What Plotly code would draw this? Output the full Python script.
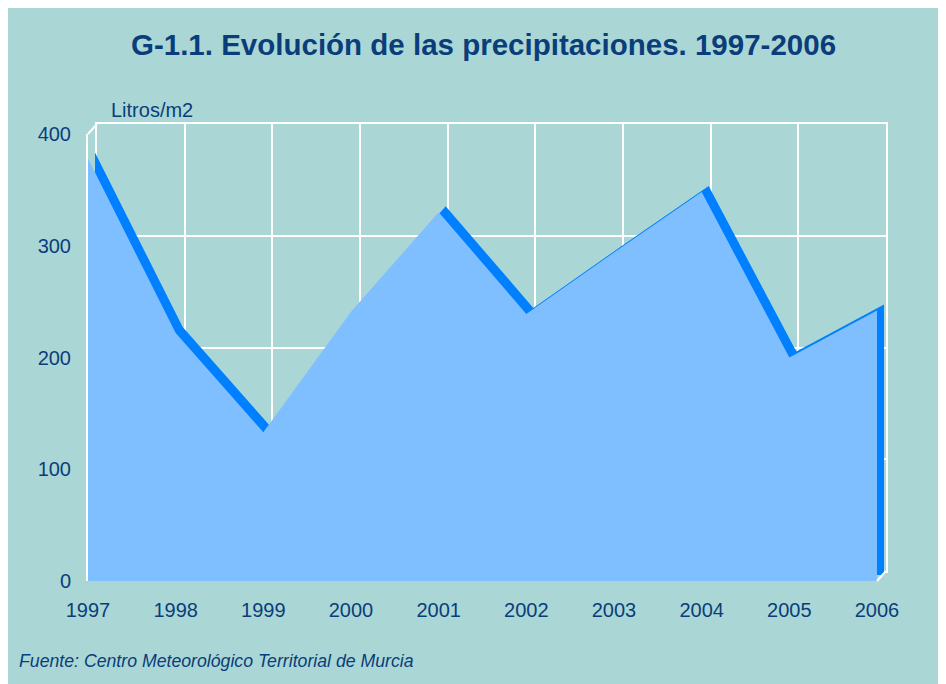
import plotly.graph_objects as go

years = ["1997", "1998", "1999", "2000", "2001", "2002", "2003", "2004", "2005", "2006"]
precip = [378, 222, 133, 241, 330, 239, 294, 348, 200, 242]
y_ticks = [0, 100, 200, 300, 400]

OFF = 8  # page body margin
W, H = 946 - OFF, 684 - OFF
L, R, T, B = 88 - OFF, 60, 124 - OFF, 103
PW, PH = W - L - R, H - T - B


def px(x):
    return (x - OFF - L) / PW


def py(y):
    return (H - B - (y - OFF)) / PH


BG = "#AAD7D5"
TXT = "#0B3D7B"
LIGHT = "#80BFFF"
DARK = "#0080FF"
FONT = "Liberation Sans, Arial, sans-serif"

idx = list(range(len(years)))

# reference pixel geometry
front_left, front_right = 88, 877
front_bottom, front_top = 581, 134
back_dx, back_dy = 9, 10   # back wall offset
area_dx, area_dy = 7, 6    # back face of series offset

fig = go.Figure()
# invisible trace to make the back-wall subplot render its grid
fig.add_trace(go.Scatter(x=idx, y=precip, xaxis="x", yaxis="y", mode="lines",
                         line=dict(width=0, color="rgba(0,0,0,0)"),
                         hoverinfo="skip", showlegend=False))
# back face of the 3D area (dark)
fig.add_trace(go.Scatter(x=idx, y=precip, xaxis="x2", yaxis="y2", mode="lines",
                         fill="tozeroy", fillcolor=DARK, line=dict(width=0, color=DARK),
                         hoverinfo="skip", showlegend=False))
# front face (light)
fig.add_trace(go.Scatter(x=idx, y=precip, xaxis="x3", yaxis="y3", mode="lines",
                         fill="tozeroy", fillcolor=LIGHT, line=dict(width=0, color=LIGHT),
                         showlegend=False))

common_hidden = dict(showgrid=False, zeroline=False, showticklabels=False, showline=False, ticks="")

fig.update_layout(
    width=W, height=H,
    margin=dict(l=L, r=R, t=T, b=B),
    paper_bgcolor=BG,
    plot_bgcolor="rgba(0,0,0,0)",
    showlegend=False,
    # back wall with gridlines
    xaxis=dict(domain=[px(front_left + back_dx), px(front_right + back_dx)], range=[0, 9],
               tickvals=idx, showgrid=True, gridcolor="white", gridwidth=2,
               zeroline=False, showticklabels=False, ticks="",
               showline=True, mirror=True, linecolor="white", linewidth=2, anchor="y"),
    yaxis=dict(domain=[py(front_bottom - back_dy), py(front_top - back_dy)], range=[0, 400],
               tickvals=y_ticks, showgrid=True, gridcolor="white", gridwidth=2,
               zeroline=False, showticklabels=False, ticks="",
               showline=True, mirror=True, linecolor="white", linewidth=2, anchor="x"),
    xaxis2=dict(domain=[px(front_left + area_dx), px(front_right + area_dx)], range=[0, 9],
                anchor="y2", **common_hidden),
    yaxis2=dict(domain=[py(front_bottom - area_dy), py(front_top - area_dy)], range=[0, 400],
                anchor="x2", **common_hidden),
    xaxis3=dict(domain=[px(front_left), px(front_right)], range=[0, 9], anchor="y3",
                tickvals=idx, ticktext=years, showgrid=False, zeroline=False,
                showline=False, ticks="", ticklabelstandoff=15,
                tickfont=dict(family=FONT, size=20, color=TXT)),
    yaxis3=dict(domain=[py(front_bottom), py(front_top)], range=[0, 400], anchor="x3",
                tickvals=y_ticks, showgrid=False, zeroline=False,
                showline=True, linecolor="white", linewidth=2, ticks="",
                ticklabelstandoff=11,
                tickfont=dict(family=FONT, size=20, color=TXT)),
    shapes=[
        # top-left diagonal
        dict(type="line", xref="paper", yref="paper", x0=px(front_left), y0=py(front_top),
             x1=px(front_left + back_dx), y1=py(front_top - back_dy),
             line=dict(color="white", width=2), layer="above"),
        # bottom-right diagonal
        dict(type="line", xref="paper", yref="paper", x0=px(front_right), y0=py(front_bottom),
             x1=px(front_right + back_dx), y1=py(front_bottom - back_dy),
             line=dict(color="white", width=2), layer="above"),
    ],
    annotations=[
        dict(text="<b>G-1.1. Evolución de las precipitaciones. 1997-2006</b>", xref="paper", yref="paper",
             x=px(483), y=py(45), xanchor="center", yanchor="middle", showarrow=False,
             font=dict(family=FONT, size=29.5, color=TXT)),
        dict(text="Litros/m2", xref="paper", yref="paper", x=px(109), y=py(110),
             xanchor="left", yanchor="middle", showarrow=False,
             font=dict(family=FONT, size=20, color=TXT)),
        dict(text="<i>Fuente: Centro Meteorológico Territorial de Murcia</i>", xref="paper", yref="paper",
             x=px(17), y=py(661), xanchor="left", yanchor="middle", showarrow=False,
             font=dict(family=FONT, size=17.7, color=TXT)),
    ],
)

fig.write_html("out.html")
